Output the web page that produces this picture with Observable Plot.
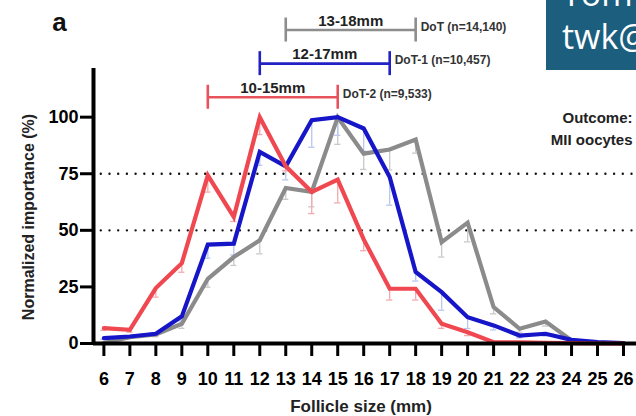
<!DOCTYPE html>
<html><head><meta charset="utf-8">
<script src="https://cdn.jsdelivr.net/npm/d3@7"></script>
<script src="https://cdn.jsdelivr.net/npm/@observablehq/plot@0.6"></script>
<style>
body{margin:0;background:#fff;}
#wrap{position:relative;width:636px;height:416px;overflow:hidden;}
#badge{position:absolute;left:546px;top:0;width:90px;height:70px;background:#1b5e7e;color:#fff;font-family:"Open Sans",sans-serif;font-size:34px;line-height:40px;overflow:hidden;}
#badge div{position:absolute;left:16px;white-space:nowrap;}
</style></head><body><div id="wrap"></div>
<script>
// Follicle sizes (mm)
const sizes = [6,7,8,9,10,11,12,13,14,15,16,17,18,19,20,21,22,23,24,25,26];
// Normalized importance (%) per series
const dotValues  = [0.2,2.8,4,8.7,28.6,38.2,45.6,68.7,67,100,83.9,85.7,90.1,44.8,53.4,16.1,6.5,9.7,1.3,0.2,0];
const dot1Values = [2.4,3.1,4.3,12,43.7,44.1,84.7,78.3,98.7,100,95,73.6,31.6,22.7,11.6,8,3.5,4.3,1.6,0.6,0.2];
const dot2Values = [6.8,6,24.5,35.5,74.3,55.9,100,78.3,67,72.4,46,24.2,24.2,8.7,5,0.6,0.5,0.3,0.2,0,0];
// Lower error extents (faint whiskers)
const dotErr  = [0,0.5,1,2,3.7,3.7,6,5,6.6,12,7,9,6,6.6,8.5,3,1.5,2,0.5,0,0];
const dot1Err = [0.5,0.5,0.5,2,6,5,6,6,12,8,10,12.5,4,8,5,2,1,1,0.5,0,0];
const dot2Err = [1,1,4,4,7.4,2,7.7,2,9.6,10.3,5,5,5,2,1.5,0.5,0,0,0,0,0];
const yTicks = [0,25,50,75,100];
const refLines = [50,75];
// Optimal ranges
const dotNames = ["DoT (n=14,140)","DoT-1 (n=10,457)","DoT-2 (n=9,533)"];
const rangeStart = [13,12,10];
const rangeEnd = [18,17,15];
const rangeLabels = ["13-18mm","12-17mm","10-15mm"];

const lineColors = ["#8b8b8b","#1616c8","#f04850"];
const bracketColors = ["#8d8d8d","#2222c4","#e8525b"];
const errColors = ["#c9c9c9","#b9c6ef","#f4a9ad"];
const seriesVals = [dotValues, dot1Values, dot2Values];
const seriesErr = [dotErr, dot1Err, dot2Err];

const rows = seriesVals.map((vals,s)=>sizes.map((x,i)=>({x, v: vals[i], e: seriesErr[s][i]})));
const X0 = 5.6, X1 = 26.5, YMAX = 121.5;

const marks = [];
// dotted reference lines
marks.push(Plot.ruleY(refLines, {x1: 5.9, x2: X1, stroke:"#111", strokeWidth:2.4, strokeDasharray:"0,8.7", strokeLinecap:"round"}));
// faint error bars
rows.forEach((r,s)=>{
  const d = r.filter(o=>o.e>0);
  marks.push(Plot.ruleX(d, {x:"x", y1:o=>o.v-o.e, y2:"v", stroke: errColors[s], strokeWidth:1.3}));
  marks.push(Plot.ruleY(d, {y:o=>o.v-o.e, x1:o=>o.x-0.12, x2:o=>o.x+0.12, stroke: errColors[s], strokeWidth:1.3}));
});
// lines
[0,1,2].forEach(s=>{
  marks.push(Plot.line(rows[s], {x:"x", y:"v", stroke: lineColors[s], strokeWidth:4.2, strokeLinejoin:"miter", strokeMiterlimit:3}));
});
// axes
marks.push(Plot.axisX({ticks: sizes, tickSize: 13, tickPadding: 16, fontSize: 18, strokeWidth: 3, label: null, tickFormat: d=>String(d)}));
marks.push(Plot.axisY({ticks: yTicks, tickSize: 13, tickPadding: 2, fontSize: 18, strokeWidth: 3, label: null}));
marks.push(Plot.ruleX([X0], {y1: 0, y2: YMAX, strokeWidth: 4}));
marks.push(Plot.ruleY([0], {x1: X0, x2: X1, strokeWidth: 4}));
// range brackets
[0,1,2].forEach(i=>{
  const level = 108.8 + (2-i)*14.85;
  const col = bracketColors[i];
  marks.push(Plot.ruleY([level], {x1: rangeStart[i], x2: rangeEnd[i], stroke: col, strokeWidth: 2.6}));
  marks.push(Plot.ruleX([rangeStart[i], rangeEnd[i]], {y1: level-5.3, y2: level+5.3, stroke: col, strokeWidth: 2.6}));
  marks.push(Plot.text([rangeLabels[i]], {x: ()=> (rangeStart[i]+rangeEnd[i])/2, y: ()=>level, dy: -9, fontSize: 15, fill:"#222", lineAnchor:"middle"}));
  marks.push(Plot.text([dotNames[i]], {x: ()=>rangeEnd[i], y: ()=>level, dx: 5, dy: -3, fontSize: 12, fill:"#333", textAnchor:"start", lineAnchor:"middle"}));
});
// annotation texts
marks.push(Plot.text(["Outcome:"], {frameAnchor:"top-right", dx:-4, dy:50, textAnchor:"end", lineAnchor:"middle", fontSize:15, fill:"#222"}));
marks.push(Plot.text(["MII oocytes"], {frameAnchor:"top-right", dx:-4, dy:72, textAnchor:"end", lineAnchor:"middle", fontSize:15, fill:"#222"}));
marks.push(Plot.text(["Normalized importance (%)"], {frameAnchor:"left", rotate:-90, dx:-65, dy:11, fontSize:16, fill:"#222", lineAnchor:"middle", textAnchor:"middle"}));
marks.push(Plot.text(["Follicle size (mm)"], {frameAnchor:"bottom", dx:-4, dy:63, fontSize:17, fill:"#222", lineAnchor:"middle", textAnchor:"middle"}));
marks.push(Plot.text(["a"], {frameAnchor:"top-left", dx:-34, dy:-46, fontSize:26, fill:"#111", lineAnchor:"middle", textAnchor:"middle"}));

const chart = Plot.plot({
  width: 636, height: 416,
  marginLeft: 93, marginRight: 0, marginTop: 68, marginBottom: 73,
  style: {fontFamily: '"Liberation Sans", Arial, sans-serif', fontWeight: "bold", background: "white", overflow: "visible"},
  x: {domain: [X0, X1]},
  y: {domain: [0, YMAX]},
  marks
});
const wrap = document.getElementById("wrap");
wrap.appendChild(chart);
const badge = document.createElement("div");
badge.id = "badge";
badge.innerHTML = '<div style="top:-27px">Tom</div><div style="top:16px">twk@</div>';
wrap.appendChild(badge);
</script>
</body></html>
